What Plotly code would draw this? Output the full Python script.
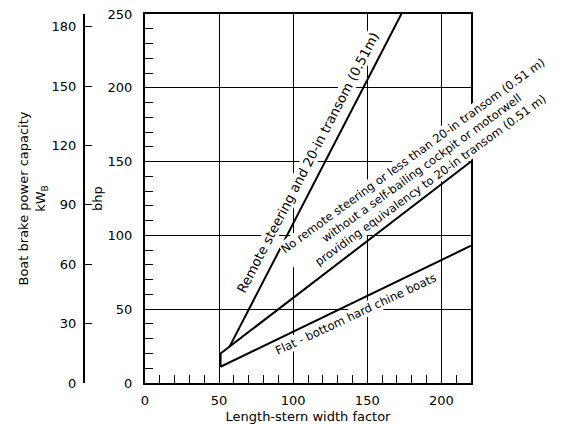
import plotly.graph_objects as go

# Conversion between brake horsepower and kilowatts
HP_TO_KW = 0.7457

# Power-capacity lines (length-stern width factor vs. bhp)
remote_x = [57, 173]
remote_y = [24.5, 250]
no_remote_x = [51, 51, 220]
no_remote_y = [11, 20, 150]
flat_x = [51, 220]
flat_y = [11, 93]

# Axis ticks
x_ticks = [0, 50, 100, 150, 200]
bhp_ticks = [0, 50, 100, 150, 200, 250]
kw_ticks = [0, 30, 60, 90, 120, 150, 180]

FONT = "DejaVu Sans"
INK = "black"

fig = go.Figure()
line_style = dict(color=INK, width=2)
for xs, ys in [(remote_x, remote_y), (no_remote_x, no_remote_y), (flat_x, flat_y)]:
    fig.add_trace(go.Scatter(x=xs, y=ys, mode="lines", line=line_style,
                             showlegend=False, hoverinfo="skip", cliponaxis=False))

# Carrier trace so the kW scale is drawn
fig.add_trace(go.Scatter(x=[0], y=[0], yaxis="y2", mode="none",
                         showlegend=False, hoverinfo="skip"))

left_pad, right_pad = 10, 91
plot_w = 562 - left_pad - right_pad
x_start = (145 - left_pad) / plot_w
kw_pos = (84 - left_pad) / plot_w

fig.update_layout(
    width=562, height=424,
    margin=dict(l=left_pad, r=right_pad, t=14, b=41),
    paper_bgcolor="white", plot_bgcolor="white",
    font=dict(family=FONT, size=13, color=INK),
    xaxis=dict(
        domain=[x_start, 1], range=[0, 220], automargin=False,
        tickvals=x_ticks, ticks="inside", ticklen=8, tickwidth=1, tickcolor=INK,
        ticklabelstandoff=4,
        minor=dict(dtick=10, tick0=0, ticks="inside", ticklen=8, tickwidth=1,
                   tickcolor=INK, showgrid=False),
        showgrid=True, gridcolor=INK, gridwidth=1,
        showline=True, linecolor=INK, linewidth=2, mirror=True,
        zeroline=False,
        title=dict(text="Length-stern width factor", standoff=8,
                   font=dict(size=13)),
    ),
    yaxis=dict(
        range=[0, 250], automargin=False,
        tickvals=bhp_ticks, ticks="inside", ticklen=8, tickwidth=1, tickcolor=INK,
        ticklabelstandoff=8,
        minor=dict(dtick=10, tick0=0, ticks="inside", ticklen=8, tickwidth=1,
                   tickcolor=INK, showgrid=False),
        showgrid=True, gridcolor=INK, gridwidth=1,
        showline=True, linecolor=INK, linewidth=2, mirror=True,
        zeroline=False,
        title=dict(text="bhp", standoff=2, font=dict(size=13)),
    ),
    yaxis2=dict(
        overlaying="y", anchor="free", position=kw_pos, side="left",
        range=[0, 250 * HP_TO_KW], automargin=False,
        tickvals=kw_ticks, ticks="inside", ticklen=7, tickwidth=1, tickcolor=INK,
        ticklabelstandoff=4,
        showgrid=False, zeroline=False,
        showline=True, linecolor=INK, linewidth=2,
        title=dict(text="Boat brake power capacity<br>kW<sub>B</sub>",
                   standoff=2, font=dict(size=13)),
    ),
)

label_common = dict(xref="x", yref="y", showarrow=False, bgcolor="white",
                    borderpad=0)

fig.add_annotation(x=110.0, y=149.5, textangle=-62.5,
                   text="Remote steering and 20-in transom (0.51m)",
                   font=dict(family=FONT, color=INK, size=13.2), **label_common)
fig.add_annotation(x=186.5, y=146.0, textangle=-36,
                   text=("No remote steering or less than 20-in transom (0.51 m)<br>"
                         "without a self-bailing cockpit or motorwell<br>"
                         "providing equivalency to 20-in transom (0.51 m)"),
                   align="center",
                   font=dict(family=FONT, color=INK, size=11.6), **label_common)
fig.add_annotation(x=142.5, y=46.5, textangle=-25,
                   text="Flat - bottom hard chine boats",
                   font=dict(family=FONT, color=INK, size=11.6), **label_common)

fig.write_html("out.html")
